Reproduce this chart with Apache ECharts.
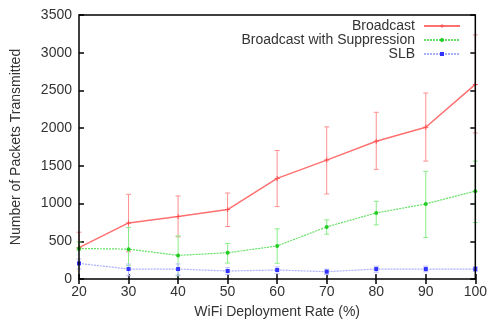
<!DOCTYPE html>
<html>
<head>
<meta charset="utf-8">
<script src="https://cdn.jsdelivr.net/npm/echarts@6/dist/echarts.min.js"></script>
<style>
  html, body { margin: 0; padding: 0; background: #fff; }
  #chart { width: 490px; height: 324px; }
</style>
</head>
<body>
<div id="chart"></div>
<script>
var rates = [20, 30, 40, 50, 60, 70, 80, 90, 100];

var broadcast     = [415, 744, 828, 920, 1334, 1576, 1827, 2012, 2580];
var broadcastLow  = [400, 361, 559, 696, 960, 1127, 1453, 1563, 1937];
var broadcastHigh = [620, 1123, 1101, 1140, 1704, 2017, 2210, 2466, 3236];

var suppression     = [405, 396, 313, 348, 438, 691, 876, 995, 1165];
var suppressionLow  = [380, 176, 44, 211, 209, 594, 718, 551, 749];
var suppressionHigh = [490, 683, 572, 471, 665, 784, 1030, 1427, 1563];

var slb     = [207, 132, 132, 106, 119, 97, 132, 132, 132];
var slbLow  = [132, 44, 50, 60, 70, 60, 90, 95, 100];
var slbHigh = [264, 198, 200, 150, 160, 130, 170, 170, 165];

var fontName = 'Liberation Sans, Arial, sans-serif';
var textColor = '#333';

function points(values) {
  var arr = [];
  for (var i = 0; i < rates.length; i++) {
    arr.push([rates[i], values[i]]);
  }
  return arr;
}

function errorData(low, high) {
  var arr = [];
  for (var i = 0; i < rates.length; i++) {
    arr.push([rates[i], low[i], high[i]]);
  }
  return arr;
}

// vertical bar with small caps, drawn through the axes
function errorBars(name, color, low, high) {
  return {
    name: name,
    type: 'custom',
    z: 1,
    silent: true,
    data: errorData(low, high),
    renderItem: function (params, api) {
      var x = api.value(0);
      var lo = api.coord([x, api.value(1)]);
      var hi = api.coord([x, api.value(2)]);
      var w = 2.5;
      var style = { stroke: color, lineWidth: 1 };
      return {
        type: 'group',
        children: [
          { type: 'line', shape: { x1: lo[0], y1: lo[1], x2: hi[0], y2: hi[1] }, style: style },
          { type: 'line', shape: { x1: lo[0] - w, y1: lo[1], x2: lo[0] + w, y2: lo[1] }, style: style },
          { type: 'line', shape: { x1: hi[0] - w, y1: hi[1], x2: hi[0] + w, y2: hi[1] }, style: style }
        ]
      };
    }
  };
}

var plusSymbol = 'path://M4,0H6V4H10V6H6V10H4V6H0V4H4Z';

var chart = echarts.init(document.getElementById('chart'));

function legendRow(name, top) {
  return {
    data: [name],
    right: 29,
    top: top,
    align: 'right',
    orient: 'vertical',
    itemWidth: 36,
    itemHeight: 5,
    itemGap: 0,
    padding: 0,
    selectedMode: false,
    textStyle: { fontFamily: fontName, fontSize: 14, color: textColor, padding: [0, 4, 0, 0] }
  };
}

var option = {
  animation: false,
  backgroundColor: '#fff',
  grid: {
    left: 79, right: 13, top: 15, bottom: 44,
    show: true, z: 3,
    borderColor: '#000', borderWidth: 1.5,
    backgroundColor: 'transparent'
  },
  legend: [
    legendRow('Broadcast', 19),
    legendRow('Broadcast with Suppression', 33),
    legendRow('SLB', 47)
  ],
  xAxis: [{
    type: 'value',
    min: 20, max: 100, interval: 10,
    name: 'WiFi Deployment Rate (%)',
    nameLocation: 'middle',
    nameGap: 26,
    nameTextStyle: { fontFamily: fontName, fontSize: 14, color: textColor },
    axisLine: { show: false },
    axisTick: { inside: true, length: 5, lineStyle: { color: '#000', width: 1.5 } },
    axisLabel: { fontFamily: fontName, fontSize: 14, color: textColor, margin: 6 },
    splitLine: { show: false }
  }, {
    type: 'value',
    position: 'top',
    min: 20, max: 100, interval: 10,
    axisLine: { show: false },
    axisTick: { inside: true, length: 5, lineStyle: { color: '#000', width: 1.5 } },
    axisLabel: { show: false },
    splitLine: { show: false }
  }],
  yAxis: [{
    type: 'value',
    min: 0, max: 3500, interval: 500,
    name: 'Number of Packets Transmitted',
    nameLocation: 'middle',
    nameGap: 56,
    nameTextStyle: { fontFamily: fontName, fontSize: 14, color: textColor },
    axisLine: { show: false },
    axisTick: { show: true, inside: true, length: 5, lineStyle: { color: '#000', width: 1.5 } },
    axisLabel: {
      fontFamily: fontName, fontSize: 14, color: textColor, margin: 7,
      formatter: function (v) { return String(v); }
    },
    splitLine: { show: false }
  }, {
    type: 'value',
    position: 'right',
    min: 0, max: 3500, interval: 500,
    axisLine: { show: false },
    axisTick: { show: true, inside: true, length: 5, lineStyle: { color: '#000', width: 1.5 } },
    axisLabel: { show: false },
    splitLine: { show: false }
  }],
  series: [
    {
      name: 'Broadcast',
      type: 'line',
      z: 2,
      data: points(broadcast),
      color: '#ff7070',
      symbol: plusSymbol,
      symbolSize: 5,
      lineStyle: { color: '#ff7070', width: 1.5 },
      itemStyle: { color: '#ff5050' }
    },
    errorBars('Broadcast', '#ff9090', broadcastLow, broadcastHigh),
    {
      name: 'Broadcast with Suppression',
      type: 'line',
      z: 2,
      data: points(suppression),
      color: '#44dd44',
      symbol: 'circle',
      symbolSize: 4,
      lineStyle: { color: '#66e066', width: 1.2, type: [2, 1] },
      itemStyle: { color: '#22cc22' }
    },
    errorBars('Broadcast with Suppression', '#88ee88', suppressionLow, suppressionHigh),
    {
      name: 'SLB',
      type: 'line',
      z: 2,
      data: points(slb),
      color: '#4444ff',
      symbol: 'rect',
      symbolSize: 4,
      lineStyle: { color: '#aab0ff', width: 1.2, type: [2, 1] },
      itemStyle: { color: '#3333ff' }
    },
    errorBars('SLB', '#b8bcff', slbLow, slbHigh)
  ]
};

chart.setOption(option);
</script>
</body>
</html>
